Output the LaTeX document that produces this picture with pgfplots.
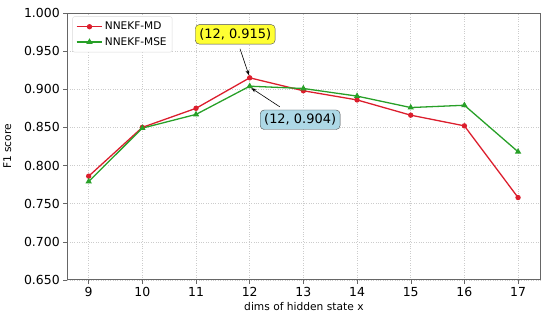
\documentclass[border=0pt]{standalone}
\usepackage{pgfplots}
\pgfplotsset{compat=1.18}
\usepackage{fontspec}
\setmainfont{DejaVu Sans}
\usetikzlibrary{arrows.meta}
\definecolor{mdred}{RGB}{220,30,45}
\definecolor{msegreen}{RGB}{40,160,40}
\definecolor{annyellow}{RGB}{255,255,51}
\definecolor{annblue}{RGB}{173,216,230}
\begin{document}
\begin{tikzpicture}
\path (0,0) rectangle (550bp,321bp);
\begin{axis}[
  at={(67bp,41bp)}, anchor=south west,
  scale only axis, width=473.6bp, height=267bp,
  xmin=8.6, xmax=17.42, ymin=0.65, ymax=1.0,
  xtick={9,...,17},
  ytick={0.65,0.7,0.75,0.8,0.85,0.9,0.95,1.0},
  yticklabel style={/pgf/number format/fixed,/pgf/number format/fixed zerofill,/pgf/number format/precision=3},
  /pgf/number format/assume math mode=true,
  ticklabel style={font=\fontsize{12.5}{14}\selectfont},
  xlabel={dims of hidden state x}, ylabel={F1 score},
  label style={font=\fontsize{10.7}{12}\selectfont},
  xlabel style={yshift=1pt},
  ylabel style={yshift=6pt},
  tick align=outside, tick pos=left,
  major tick length=4bp,
  grid=major, grid style={dotted, gray!40, line width=0.5pt},
  axis line style={gray!80!black, line width=0.9pt},
  every tick/.style={gray!80!black},
  legend style={font=\fontsize{10.6}{12.5}\selectfont, draw=gray!30, rounded corners=2pt, at={(0.011,0.987)}, anchor=north west, row sep=2pt, inner sep=3.5pt},
  legend image code/.code={\draw[mark repeat=2,mark phase=2,#1] plot coordinates {(0cm,0cm) (0.45cm,0cm) (0.9cm,0cm)};},
  legend cell align=left,
]
\addplot[mdred, line width=1.3pt, mark=*, mark size=2pt] coordinates {
 (9,0.786) (10,0.850) (11,0.875) (12,0.915) (13,0.898) (14,0.886) (15,0.866) (16,0.852) (17,0.758)};
\addlegendentry{NNEKF-MD}
\addplot[msegreen, line width=1.3pt, mark=triangle*, mark size=2.4pt] coordinates {
 (9,0.779) (10,0.849) (11,0.867) (12,0.904) (13,0.901) (14,0.891) (15,0.876) (16,0.879) (17,0.818)};
\addlegendentry{NNEKF-MSE}
\node[draw=black!70, fill=annyellow, rounded corners=4pt, font=\fontsize{13}{15}\selectfont, inner sep=4pt] (ya) at (axis cs:11.73,0.972) {(12, 0.915)};
\node[draw=black!70, fill=annblue, rounded corners=4pt, font=\fontsize{13}{15}\selectfont, inner sep=4pt] (ba) at (axis cs:12.94,0.860) {(12, 0.904)};
\draw[-{Stealth[length=5pt]}, line width=0.6pt] (axis cs:11.82,0.953) -- (axis cs:11.985,0.9185);
\draw[-{Stealth[length=5pt]}, line width=0.6pt] (axis cs:12.56,0.877) -- (axis cs:12.03,0.9015);
\end{axis}
\end{tikzpicture}
\end{document}
